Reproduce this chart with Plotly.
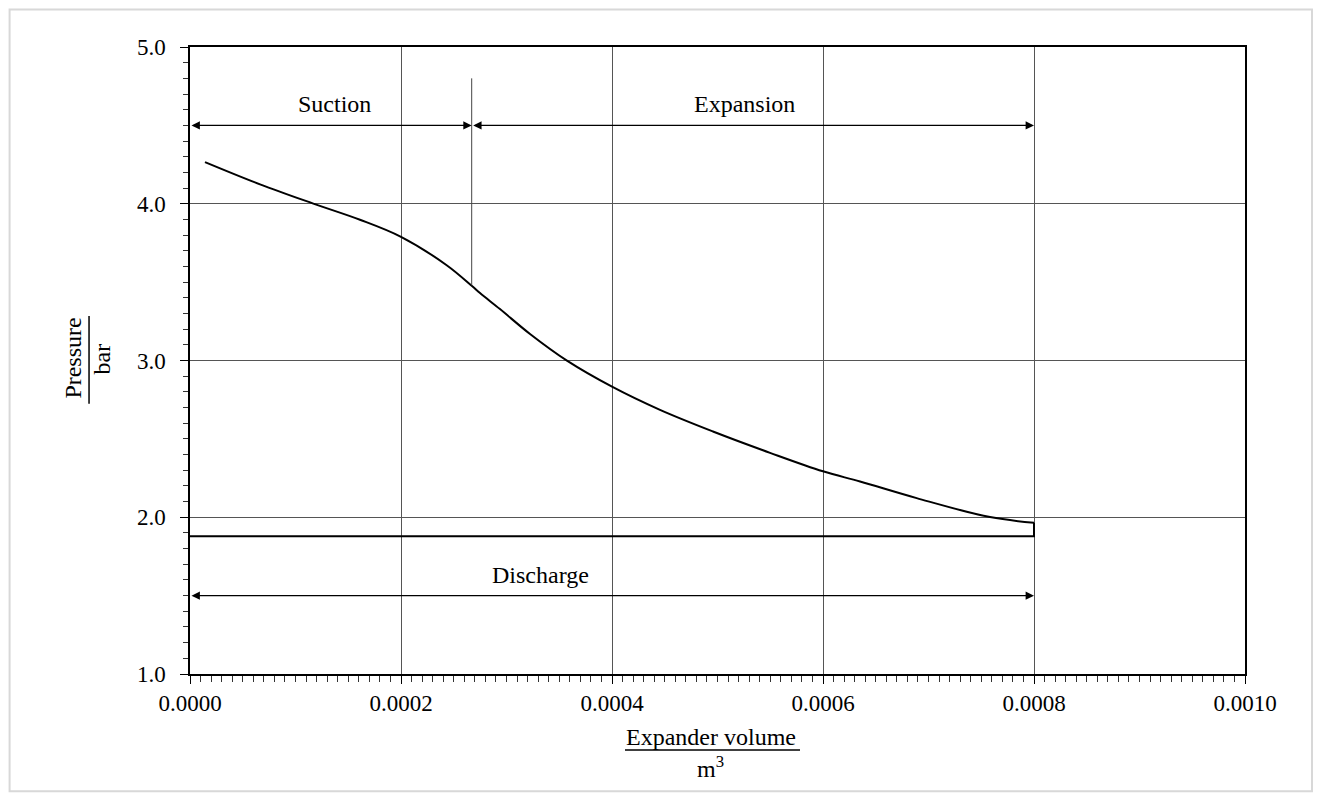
import plotly.graph_objects as go

# Expansion curve (volume m^3, pressure bar)
volume = [0.0000142, 0.0000664, 0.0001169, 0.0001611, 0.0002000, 0.0002433, 0.0002673, 0.0002749,
          0.0002938, 0.0003223, 0.0003573, 0.0004000, 0.0004455, 0.0004957, 0.0005498, 0.0006000,
          0.0006351, 0.0006888, 0.0007583, 0.0008000]
pressure = [4.266, 4.124, 4.001, 3.898, 3.789, 3.608, 3.475, 3.430,
            3.328, 3.169, 2.999, 2.833, 2.685, 2.547, 2.411, 2.293,
            2.228, 2.122, 2.001, 1.965]

discharge_pressure = 1.878
discharge_volume = [0.0008, 0.0008, 0.0]

# Phase boundaries and labels
phase_bounds = [0.0, 0.000267, 0.0008]
phase_names = ["Suction", "Expansion"]
phase_label_x = [0.0001365, 0.000526]
phase_arrow_level = 4.5
phase_label_level = 4.635
separator_range = [3.48, 4.80]
discharge_arrow_level = 1.5
discharge_label_x = 0.000332
discharge_label_level = 1.634
discharge_label = "Discharge"

x_ticks = [0.0, 0.0002, 0.0004, 0.0006, 0.0008, 0.0010]
y_ticks = [1.0, 2.0, 3.0, 4.0, 5.0]

FONT = "Liberation Serif"

fig = go.Figure()
fig.add_trace(go.Scatter(x=volume, y=pressure, mode="lines",
                         line=dict(color="black", width=2, shape="spline", smoothing=1.0),
                         showlegend=False, hoverinfo="skip"))
fig.add_trace(go.Scatter(x=discharge_volume,
                         y=[pressure[-1], discharge_pressure, discharge_pressure], mode="lines",
                         line=dict(color="black", width=2),
                         showlegend=False, hoverinfo="skip"))

# separator between suction and expansion
fig.add_trace(go.Scatter(x=[phase_bounds[1], phase_bounds[1]], y=separator_range, mode="lines",
                         line=dict(color="#444", width=1), showlegend=False, hoverinfo="skip"))

annotations = []
for i, name in enumerate(phase_names):
    x0, x1 = phase_bounds[i], phase_bounds[i + 1]
    annotations.append(dict(x=x1, y=phase_arrow_level, ax=x0, ay=phase_arrow_level,
                            xref="x", yref="y", axref="x", ayref="y", text="",
                            showarrow=True, arrowhead=2, arrowside="end+start",
                            arrowsize=1.2, arrowwidth=1.4, arrowcolor="black",
                            standoff=0, startstandoff=0))
    annotations.append(dict(x=phase_label_x[i], y=phase_label_level, xref="x", yref="y",
                            text=name, showarrow=False, xanchor="center", yanchor="middle",
                            font=dict(family=FONT, size=24, color="black")))

annotations.append(dict(x=phase_bounds[-1], y=discharge_arrow_level, ax=phase_bounds[0],
                        ay=discharge_arrow_level, xref="x", yref="y", axref="x", ayref="y",
                        text="", showarrow=True, arrowhead=2, arrowside="end+start",
                        arrowsize=1.2, arrowwidth=1.4, arrowcolor="black",
                        standoff=0, startstandoff=0))
annotations.append(dict(x=discharge_label_x, y=discharge_label_level,
                        xref="x", yref="y", text=discharge_label, showarrow=False,
                        xanchor="center", yanchor="middle",
                        font=dict(family=FONT, size=24, color="black")))

# axis titles as fractions
annotations += [
    dict(x=-0.1109, y=0.503, xref="paper", yref="paper", text="Pressure", textangle=-90,
         xanchor="center", yanchor="middle",
         showarrow=False, font=dict(family=FONT, size=24, color="black")),
    dict(x=-0.0835, y=0.503, xref="paper", yref="paper", text="bar", textangle=-90,
         xanchor="center", yanchor="middle",
         showarrow=False, font=dict(family=FONT, size=24, color="black")),
    dict(x=0.4938, y=-0.1012, xref="paper", yref="paper", text="Expander volume",
         xanchor="center", yanchor="middle",
         showarrow=False, font=dict(family=FONT, size=24, color="black")),
    dict(x=0.4938, y=-0.149, xref="paper", yref="paper", text="m<sup>3</sup>",
         xanchor="center", yanchor="middle",
         showarrow=False, font=dict(family=FONT, size=24, color="black")),
]

shapes = [
    dict(type="line", xref="paper", yref="paper", x0=-0.0957, x1=-0.0957, y0=0.431, y1=0.571,
         line=dict(color="black", width=1.5)),
    dict(type="line", xref="paper", yref="paper", x0=0.4123, x1=0.5782, y0=-0.1214, y1=-0.1214,
         line=dict(color="black", width=1.5)),
    dict(type="rect", xref="paper", yref="paper", x0=-0.171, x1=1.0635, y0=-0.187, y1=1.0598,
         line=dict(color="#d8d8d8", width=2), layer="below"),
]

fig.update_layout(
    width=1318, height=794,
    margin=dict(l=190, r=73, t=47, b=120),
    paper_bgcolor="white", plot_bgcolor="white",
    font=dict(family=FONT, size=23, color="black"),
    annotations=annotations, shapes=shapes,
)
fig.update_xaxes(range=[0, 0.001], tickvals=x_ticks, tickformat=".4f",
                 showgrid=True, gridcolor="#555", gridwidth=1,
                 showline=True, linecolor="black", linewidth=1.5, mirror=True,
                 ticks="outside", ticklen=8, tickcolor="black",
                 minor=dict(dtick=0.00001, ticks="outside", ticklen=6, tickcolor="#333", showgrid=False),
                 zeroline=False, tickfont=dict(family=FONT, size=23))
fig.update_yaxes(range=[1, 5], tickvals=y_ticks, tickformat=".1f",
                 showgrid=True, gridcolor="#555", gridwidth=1,
                 showline=True, linecolor="black", linewidth=1.5, mirror=True,
                 ticks="outside", ticklen=8, tickcolor="black", ticklabelstandoff=10,
                 minor=dict(dtick=0.1, ticks="outside", ticklen=5, tickcolor="#333", showgrid=False),
                 zeroline=False, tickfont=dict(family=FONT, size=23))

fig.write_html("out.html", config={"displayModeBar": False},
               post_script="document.body.style.margin='0';")
